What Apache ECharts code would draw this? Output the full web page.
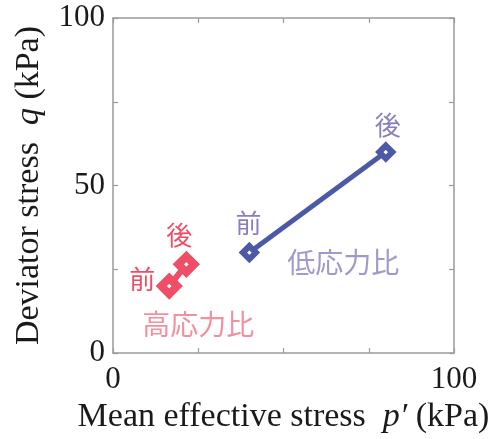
<!DOCTYPE html>
<html>
<head>
<meta charset="utf-8">
<script src="https://cdn.jsdelivr.net/npm/echarts@6/dist/echarts.min.js"></script>
<style>
  html, body { margin: 0; padding: 0; background: #fff; overflow: hidden; }
  #chart { width: 504px; height: 439px; }
</style>
</head>
<body>
<div id="chart"></div>
<script>
// Stress states before (前) and after (後) loading, p' and q in kPa
const stageNames = ['前', '後'];
const lowRatioP = [40, 80];
const lowRatioQ = [30, 60];
const highRatioP = [16.5, 21.5];
const highRatioQ = [20, 26.5];

// Group captions and the (p', q) spot each one is written at
const groupNames = ['低応力比', '高応力比'];
const groupLabelP = [67.5, 25];
const groupLabelQ = [27, 8.5];

const xTickLabels = ['0', '100'];
const yTickLabels = ['0', '50', '100'];

const serif = '"Liberation Serif", "DejaVu Serif", serif';
const cjk = '"Noto Sans CJK JP", "Noto Sans", sans-serif';

const blue = '#4b59a6';
const blueText = '#8a7fbe';
const red = '#ee4f66';
const redText = '#f07488';
const ink = '#1a1a1a';

function points(ps, qs) {
  return ps.map((p, i) => [p, qs[i]]);
}

const lowLabelCfg = [
  { position: 'top', distance: 7, offset: [-1, 0] },
  { position: 'top', distance: 4, offset: [2, 0] }
];
const highLabelCfg = [
  { position: 'left', distance: 2, offset: [0, -7] },
  { position: 'top', distance: 4, offset: [-7, 0] }
];

function withLabels(pts, cfgs, color) {
  return pts.map((v, i) => ({
    value: v,
    label: Object.assign({
      show: true,
      formatter: stageNames[i],
      color: color,
      fontFamily: cjk,
      fontSize: 26
    }, cfgs[i])
  }));
}

const chart = echarts.init(document.getElementById('chart'), null, { renderer: 'canvas' });

const axisLine = { show: true, onZero: false, lineStyle: { color: '#9a9a9a', width: 1.5 } };
const axisTick = { show: true, inside: true, length: 5, lineStyle: { color: '#9a9a9a', width: 1.2 } };
const nameRich = {
  a: { fontFamily: serif, fontSize: 34, color: ink },
  i: { fontFamily: serif, fontSize: 34, color: ink, fontStyle: 'italic' }
};

chart.setOption({
  animation: false,
  backgroundColor: '#fff',
  grid: { left: 113, right: 50, top: 18, bottom: 79, containLabel: false },
  xAxis: [
    {
      type: 'value', min: 0, max: 100, interval: 25, position: 'bottom',
      axisLine, axisTick, splitLine: { show: false },
      axisLabel: {
        margin: 11,
        fontFamily: serif, fontSize: 31, color: ink,
        formatter: v => xTickLabels.includes(String(v)) ? String(v) : ''
      },
      name: '{a|Mean effective stress  }{i|p′}{a| (kPa)}',
      nameLocation: 'middle', nameGap: 41,
      nameTextStyle: { rich: nameRich }
    },
    {
      type: 'value', min: 0, max: 100, interval: 25, position: 'top',
      axisLine, axisTick, splitLine: { show: false }, axisLabel: { show: false }
    }
  ],
  yAxis: [
    {
      type: 'value', min: 0, max: 100, interval: 25, position: 'left',
      axisLine, axisTick, splitLine: { show: false },
      axisLabel: {
        margin: 8,
        fontFamily: serif, fontSize: 31, color: ink,
        formatter: v => yTickLabels.includes(String(v)) ? String(v) : ''
      },
      name: '{a|Deviator stress  }{i|q}{a| (kPa)}',
      nameLocation: 'middle', nameGap: 67,
      nameTextStyle: { rich: nameRich }
    },
    {
      type: 'value', min: 0, max: 100, interval: 25, position: 'right',
      axisLine, axisTick, splitLine: { show: false }, axisLabel: { show: false }
    }
  ],
  series: [
    {
      name: groupNames[0],
      type: 'line',
      data: withLabels(points(lowRatioP, lowRatioQ), lowLabelCfg, blueText),
      lineStyle: { color: blue, width: 5 },
      symbol: 'diamond', symbolSize: 13,
      itemStyle: { color: '#fff', borderColor: blue, borderWidth: 6 },
      z: 3
    },
    {
      name: groupNames[1],
      type: 'line',
      data: withLabels(points(highRatioP, highRatioQ), highLabelCfg, red),
      lineStyle: { color: red, width: 6 },
      symbol: 'diamond', symbolSize: 16,
      itemStyle: { color: '#fff', borderColor: red, borderWidth: 8 },
      z: 3
    },
    {
      type: 'scatter',
      symbol: 'circle',
      symbolSize: 1,
      itemStyle: { color: 'rgba(0,0,0,0)' },
      data: points(groupLabelP, groupLabelQ).map((v, i) => ({
        value: v,
        label: {
          show: true, position: 'inside',
          formatter: groupNames[i],
          color: i === 0 ? blueText : redText,
          fontFamily: cjk, fontSize: 28
        }
      })),
      z: 2
    }
  ]
});
</script>
</body>
</html>
